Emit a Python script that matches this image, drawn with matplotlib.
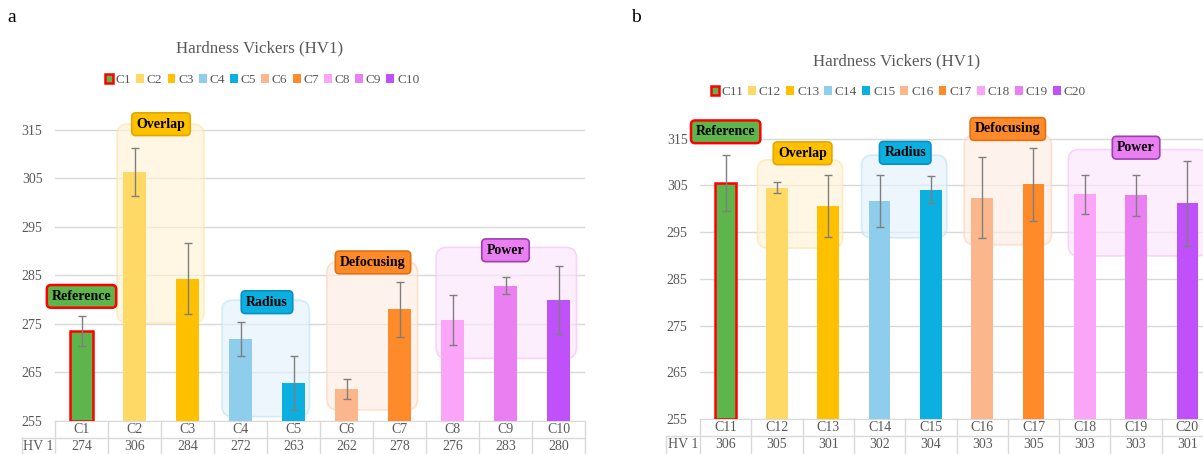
import matplotlib
matplotlib.use("Agg")
import matplotlib.pyplot as plt
from matplotlib.patches import FancyBboxPatch
from matplotlib.transforms import blended_transform_factory

plt.rcParams['font.family'] = ['Liberation Serif', 'DejaVu Serif']

# data
names_a = ["C1", "C2", "C3", "C4", "C5", "C6", "C7", "C8", "C9", "C10"]
hv_a = [273.6, 306.3, 284.3, 272.0, 262.9, 261.6, 278.0, 275.8, 282.9, 280.0]
err_a = [3.1, 5.0, 7.3, 3.5, 5.6, 2.1, 5.6, 5.2, 1.7, 7.0]
table_a = [274, 306, 284, 272, 263, 262, 278, 276, 283, 280]

names_b = ["C11", "C12", "C13", "C14", "C15", "C16", "C17", "C18", "C19", "C20"]
hv_b = [305.6, 304.5, 300.6, 301.7, 304.1, 302.4, 305.3, 303.1, 302.9, 301.2]
err_b = [6.0, 1.2, 6.7, 5.5, 2.9, 8.7, 7.8, 4.1, 4.4, 9.1]
table_b = [306, 305, 301, 302, 304, 303, 305, 303, 303, 301]

colors = ["#5DB54B", "#FFD966", "#FFC000", "#8ECDEB", "#0BB0E0",
          "#FBB68C", "#FF8A2A", "#FBA5F9", "#E97FF0", "#C050FA"]

# groups: name, label fill, label edge, box fill, box edge
groups = [
    ("Overlap", "#FFC000", "#E0A800", "#FFF3D6", "#FFE3A0"),
    ("Radius", "#0BB0E0", "#0A90C0", "#E3F2FB", "#BEE3F5"),
    ("Defocusing", "#FF8A2A", "#E07010", "#FDEEE3", "#FBD3B8"),
    ("Power", "#E97FF0", "#9B3FB0", "#FCE6FC", "#F5C2F5"),
]

# layout of the annotation boxes (x0, x1, y0, y1, label x, label y)
layout_a = {
    "Reference": (0.0, 280.7),
    "Overlap": (0.67, 2.31, 275.2, 316.2, 1.5, 316.2),
    "Radius": (2.65, 4.30, 255.9, 279.9, 3.5, 279.5),
    "Defocusing": (4.63, 6.34, 257.3, 287.8, 5.5, 287.7),
    "Power": (6.69, 9.34, 267.9, 290.8, 8.0, 290.2),
}
layout_b = {
    "Reference": (0.0, 316.5),
    "Overlap": (0.62, 2.28, 291.6, 310.5, 1.5, 311.9),
    "Radius": (2.65, 4.31, 293.8, 311.5, 3.5, 312.0),
    "Defocusing": (4.65, 6.35, 292.3, 315.8, 5.5, 317.1),
    "Power": (6.68, 9.40, 289.9, 312.7, 8.0, 313.1),
}

GRAY = "#595959"
LINE = "#D9D9D9"

fig = plt.figure(figsize=(12.03, 4.54), dpi=100)


def draw_panel(rect, names, hv, err, table, layout, hv_left, px_x, px_y):
    ax = fig.add_axes(rect)
    x = list(range(len(names)))
    bars = ax.bar(x, [v - 255 for v in hv], bottom=255, width=0.42,
                  color=colors, zorder=3)
    bars[0].set_edgecolor("#FF0000")
    bars[0].set_linewidth(1.8)
    ax.errorbar(x, hv, yerr=err, fmt="none", ecolor="#7F7F7F",
                elinewidth=1, capsize=3, capthick=1, zorder=4)

    ax.set_xlim(-0.5, len(names) - 0.5)
    ax.set_ylim(255, 320)
    ax.set_yticks(range(255, 316, 10))
    ax.tick_params(axis="y", length=0, pad=9, labelsize=10, labelcolor=GRAY)
    ax.set_xticks([])
    ax.yaxis.grid(True, color=LINE, lw=1, zorder=0)
    ax.set_axisbelow(True)
    for s in ["top", "right", "left"]:
        ax.spines[s].set_visible(False)
    ax.spines["bottom"].set_color(LINE)

    # rounded group boxes
    aspect = px_x / px_y
    for name, lfc, lec, bfc, bec in groups:
        x0, x1, y0, y1, lx, ly = layout[name]
        box = FancyBboxPatch((x0, y0), x1 - x0, y1 - y0,
                             boxstyle="round,pad=0,rounding_size=0.2",
                             mutation_aspect=aspect,
                             facecolor=bfc, edgecolor=bec, alpha=0.65,
                             lw=1.2, zorder=2, clip_on=False)
        ax.add_patch(box)
        ax.text(lx, ly, name, ha="center", va="center", fontsize=10,
                fontweight="bold", zorder=6, clip_on=False,
                bbox=dict(boxstyle="round,pad=0.35,rounding_size=0.3",
                          fc=lfc, ec=lec, lw=1.2))
    rx, ry = layout["Reference"]
    ax.text(rx, ry, "Reference", ha="center", va="center", fontsize=10,
            fontweight="bold", zorder=6, clip_on=False,
            bbox=dict(boxstyle="round,pad=0.35,rounding_size=0.3",
                      fc=colors[0], ec="#FF0000", lw=1.8))

    # data table below the axis
    tr = blended_transform_factory(ax.transData, ax.transAxes)
    ax_h = rect[3] * 454
    row = 17.0 / ax_h
    for i, n in enumerate(names):
        ax.text(i, -row * 0.5, n, transform=tr, ha="center", va="center",
                fontsize=10, color=GRAY)
        ax.text(i, -row * 1.5, str(table[i]), transform=tr, ha="center",
                va="center", fontsize=10, color=GRAY)
    ax.text((hv_left - 0.5) / 2, -row * 1.5, "HV 1", transform=tr,
            ha="center", va="center", fontsize=10, color=GRAY)
    for b in [i - 0.5 for i in range(len(names) + 1)]:
        ax.plot([b, b], [0, -row * 2.2], transform=tr, color=LINE, lw=1,
                clip_on=False)
    ax.plot([hv_left, hv_left], [-row, -row * 2.2], transform=tr,
            color=LINE, lw=1, clip_on=False)
    ax.plot([hv_left, len(names) - 0.5], [-row, -row], transform=tr,
            color=LINE, lw=1, clip_on=False)
    return ax, bars


ax_a, bars_a = draw_panel([55 / 1203, 33 / 454, 530 / 1203, 315.25 / 454],
                          names_a, hv_a, err_a, table_a, layout_a,
                          -1.13, 53.0, 4.85)
ax_b, bars_b = draw_panel([700 / 1203, 35 / 454, 513 / 1203, 303.55 / 454],
                          names_b, hv_b, err_b, table_b, layout_b,
                          -1.16, 51.3, 4.67)

# titles, legends, panel letters
fig.text(260 / 1203, 1 - 48 / 454, "Hardness Vickers (HV1)", ha="center",
         va="center", fontsize=12.2, color=GRAY)
fig.text(897 / 1203, 1 - 61 / 454, "Hardness Vickers (HV1)", ha="center",
         va="center", fontsize=12.2, color=GRAY)
fig.text(12 / 1203, 1 - 18 / 454, "a", ha="center", va="center", fontsize=14)
fig.text(636 / 1203, 1 - 18 / 454, "b", ha="center", va="center", fontsize=14)

for bars, names, cx, cy in [(bars_a, names_a, 262, 80), (bars_b, names_b, 898, 92)]:
    fig.legend(bars, names, loc="center", bbox_to_anchor=(cx / 1203, 1 - cy / 454),
               ncol=10, frameon=False, fontsize=9.5, handlelength=0.6,
               handleheight=0.6, handletextpad=0.2, columnspacing=0.4,
               labelcolor=GRAY, borderaxespad=0, borderpad=0)

fig.savefig("out.png", dpi=100)
